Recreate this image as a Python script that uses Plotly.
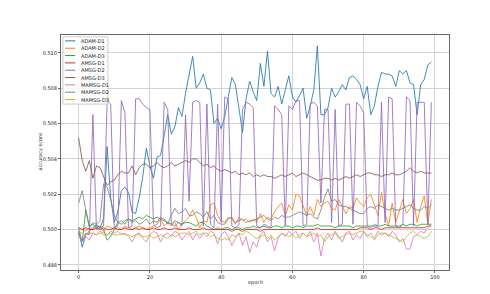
import plotly.graph_objects as go

epochs = list(range(100))

series_names = ["ADAM-D1", "ADAM-D2", "ADAM-D3", "AMSG-D1", "AMSG-D2",
                "AMSG-D3", "MAMSG-D1", "MAMSG-D2", "MAMSG-D3"]

adam_d1 = [0.4999, 0.4990, 0.4997, 0.4999, 0.5001, 0.5003, 0.5001, 0.5006, 0.5047, 0.5018,
           0.5004, 0.5010, 0.5022, 0.5024, 0.5021, 0.5010, 0.5009, 0.5018, 0.5030, 0.5046,
           0.5036, 0.5029, 0.5041, 0.5042, 0.5053, 0.5065, 0.5054, 0.5058, 0.5069, 0.5064,
           0.5077, 0.5088, 0.5098, 0.5080, 0.5083, 0.5088, 0.5080, 0.5079, 0.5060, 0.5063,
           0.5057, 0.5064, 0.5075, 0.5086, 0.5082, 0.5068, 0.5055, 0.5074, 0.5084, 0.5078,
           0.5073, 0.5094, 0.5081, 0.5101, 0.5077, 0.5075, 0.5081, 0.5071, 0.5079, 0.5087,
           0.5075, 0.5072, 0.5076, 0.5080, 0.5063, 0.5070, 0.5079, 0.5104, 0.5065, 0.5065,
           0.5069, 0.5080, 0.5075, 0.5078, 0.5082, 0.5079, 0.5086, 0.5087, 0.5085, 0.5082,
           0.5074, 0.5081, 0.5065, 0.5070, 0.5081, 0.5089, 0.5088, 0.5088, 0.5087, 0.5081,
           0.5090, 0.5088, 0.5090, 0.5083, 0.5082, 0.5065, 0.5082, 0.5085, 0.5093, 0.5095]

adam_d2 = [0.5001, 0.5000, 0.4999, 0.5001, 0.5000, 0.5002, 0.5001, 0.4999, 0.5002, 0.5001,
           0.5000, 0.5001, 0.5000, 0.5002, 0.5001, 0.5000, 0.5001, 0.5002, 0.5001, 0.5000,
           0.5001, 0.5002, 0.5003, 0.5006, 0.5002, 0.5004, 0.5002, 0.5004, 0.5000, 0.5003,
           0.5005, 0.5007, 0.5011, 0.5007, 0.5001, 0.5005, 0.5004, 0.5014, 0.5015, 0.5008,
           0.5005, 0.5004, 0.5007, 0.5006, 0.5003, 0.5007, 0.5005, 0.5006, 0.5004, 0.5006,
           0.5004, 0.5009, 0.5004, 0.5007, 0.5006, 0.5010, 0.5013, 0.5015, 0.5008, 0.5014,
           0.5011, 0.5020, 0.5019, 0.5014, 0.5008, 0.5013, 0.5008, 0.5017, 0.5013, 0.5015,
           0.5016, 0.5012, 0.5011, 0.5017, 0.5013, 0.5009, 0.5013, 0.5012, 0.5018, 0.5015,
           0.5013, 0.5018, 0.5020, 0.5014, 0.5008, 0.5021, 0.5009, 0.5002, 0.5015, 0.5004,
           0.5011, 0.5017, 0.5009, 0.5012, 0.5017, 0.5004, 0.5013, 0.5019, 0.5003, 0.5017]

adam_d3 = [0.4998, 0.4993, 0.5011, 0.5002, 0.5003, 0.5001, 0.5002, 0.5000, 0.4994, 0.4996,
           0.5000, 0.5004, 0.5003, 0.5005, 0.5006, 0.5005, 0.5006, 0.5007, 0.5006, 0.5008,
           0.5007, 0.5006, 0.5007, 0.5006, 0.5005, 0.5004, 0.5003, 0.5005, 0.5004, 0.5003,
           0.5004, 0.5004, 0.5003, 0.5002, 0.5004, 0.5004, 0.5002, 0.5001, 0.5000, 0.5001,
           0.5000, 0.5001, 0.5001, 0.5000, 0.5001, 0.5001, 0.5000, 0.5001, 0.5001, 0.5002,
           0.5001, 0.5001, 0.5002, 0.5001, 0.5001, 0.5002, 0.5002, 0.5001, 0.5002, 0.5002,
           0.5001, 0.5002, 0.5002, 0.5001, 0.5002, 0.5002, 0.5002, 0.5003, 0.5002, 0.5002,
           0.5002, 0.5002, 0.5001, 0.5002, 0.5002, 0.5002, 0.5002, 0.5001, 0.5002, 0.5002,
           0.5002, 0.5002, 0.5002, 0.5002, 0.5002, 0.5002, 0.5003, 0.5002, 0.5002, 0.5002,
           0.5002, 0.5003, 0.5002, 0.5003, 0.5003, 0.5002, 0.5003, 0.5003, 0.5003, 0.5003]

amsg_d1 = [0.5001, 0.5000, 0.5001, 0.5000, 0.5000, 0.5001, 0.5000, 0.5001, 0.5000, 0.5000,
           0.5001, 0.5000, 0.5000, 0.5001, 0.5000, 0.5000, 0.5001, 0.5000, 0.5001, 0.5000,
           0.5000, 0.5001, 0.5000, 0.5000, 0.5001, 0.5000, 0.5000, 0.5001, 0.5000, 0.5000,
           0.5000, 0.5001, 0.5000, 0.5000, 0.5000, 0.5001, 0.5000, 0.5000, 0.5000, 0.5000,
           0.5000, 0.5000, 0.5000, 0.4999, 0.5000, 0.5000, 0.4999, 0.5000, 0.5000, 0.5000,
           0.5000, 0.4999, 0.5000, 0.5000, 0.5000, 0.5000, 0.5000, 0.5000, 0.5000, 0.5000,
           0.5000, 0.5000, 0.5000, 0.5000, 0.5000, 0.5000, 0.5000, 0.5001, 0.5000, 0.5000,
           0.5000, 0.5000, 0.5000, 0.5000, 0.5000, 0.5000, 0.5000, 0.5000, 0.5000, 0.5001,
           0.5001, 0.5001, 0.5000, 0.5001, 0.5001, 0.5000, 0.5001, 0.5001, 0.5001, 0.5001,
           0.5001, 0.5001, 0.5001, 0.5001, 0.5001, 0.5001, 0.5001, 0.5001, 0.5002, 0.5002]

amsg_d2 = [0.5001, 0.4993, 0.4998, 0.4997, 0.5065, 0.5000, 0.5001, 0.5002, 0.5073, 0.5071,
           0.5001, 0.5002, 0.5073, 0.5066, 0.5001, 0.5002, 0.5074, 0.5074, 0.5071, 0.5069,
           0.5068, 0.5003, 0.5001, 0.5002, 0.5072, 0.5068, 0.5003, 0.5002, 0.5004, 0.5002,
           0.5065, 0.5016, 0.5072, 0.5073, 0.5072, 0.5002, 0.5071, 0.5003, 0.5001, 0.5071,
           0.5004, 0.5075, 0.5074, 0.5002, 0.5001, 0.5003, 0.5068, 0.5072, 0.5071, 0.5069,
           0.5002, 0.5001, 0.5003, 0.5002, 0.5001, 0.5070, 0.5068, 0.5065, 0.5002, 0.5070,
           0.5068, 0.5073, 0.5073, 0.5002, 0.5003, 0.5071, 0.5072, 0.5070, 0.5015, 0.5068,
           0.5068, 0.5004, 0.5068, 0.5002, 0.5003, 0.5071, 0.5071, 0.5003, 0.5072, 0.5070,
           0.5066, 0.5002, 0.5001, 0.5003, 0.5002, 0.5072, 0.5004, 0.5075, 0.5074, 0.5002,
           0.5001, 0.5003, 0.5075, 0.5073, 0.5002, 0.5072, 0.5072, 0.5072, 0.5003, 0.5072]

amsg_d3 = [0.5052, 0.5039, 0.5033, 0.5039, 0.5029, 0.5036, 0.5035, 0.5030, 0.5025, 0.5027,
           0.5028, 0.5031, 0.5033, 0.5032, 0.5032, 0.5036, 0.5031, 0.5035, 0.5037, 0.5037,
           0.5035, 0.5036, 0.5038, 0.5036, 0.5035, 0.5036, 0.5038, 0.5036, 0.5037, 0.5038,
           0.5039, 0.5038, 0.5040, 0.5040, 0.5038, 0.5036, 0.5037, 0.5035, 0.5036, 0.5034,
           0.5033, 0.5034, 0.5033, 0.5032, 0.5033, 0.5031, 0.5032, 0.5031, 0.5032, 0.5030,
           0.5031, 0.5030, 0.5031, 0.5030, 0.5030, 0.5029, 0.5030, 0.5031, 0.5030, 0.5031,
           0.5032, 0.5030, 0.5031, 0.5032, 0.5031, 0.5030, 0.5029, 0.5028, 0.5028, 0.5029,
           0.5029, 0.5028, 0.5029, 0.5028, 0.5029, 0.5030, 0.5029, 0.5030, 0.5031, 0.5030,
           0.5031, 0.5032, 0.5032, 0.5031, 0.5031, 0.5030, 0.5031, 0.5031, 0.5032, 0.5031,
           0.5031, 0.5032, 0.5033, 0.5035, 0.5033, 0.5032, 0.5033, 0.5032, 0.5032, 0.5032]

mamsg_d1 = [0.4997, 0.4993, 0.4996, 0.4994, 0.4998, 0.4997, 0.4999, 0.4998, 0.4997, 0.4999,
            0.4998, 0.4999, 0.4997, 0.4998, 0.4996, 0.4993, 0.4997, 0.4998, 0.4995, 0.4993,
            0.4997, 0.4999, 0.4998, 0.4993, 0.4997, 0.4998, 0.4996, 0.4999, 0.4998, 0.4994,
            0.4997, 0.4999, 0.4994, 0.4998, 0.4995, 0.4998, 0.4996, 0.4999, 0.4998, 0.4992,
            0.4997, 0.4999, 0.4996, 0.4991, 0.4995, 0.4998, 0.4991, 0.4996, 0.4987, 0.4993,
            0.4990, 0.4997, 0.4999, 0.4993, 0.4996, 0.4988, 0.4995, 0.4998, 0.4996, 0.4999,
            0.4997, 0.4999, 0.4995, 0.4998, 0.4996, 0.4999, 0.4993, 0.4998, 0.4985, 0.4995,
            0.4998, 0.4994, 0.4999, 0.4996, 0.4993, 0.4998, 0.4999, 0.4994, 0.4997, 0.4995,
            0.4999, 0.4996, 0.4998, 0.4995, 0.4999, 0.4997, 0.4998, 0.4996, 0.4999, 0.4997,
            0.4993, 0.4995, 0.4989, 0.4989, 0.4996, 0.4997, 0.4999, 0.4998, 0.5001, 0.5003]

mamsg_d2 = [0.5015, 0.5022, 0.5011, 0.5001, 0.5004, 0.5003, 0.5005, 0.5026, 0.5024, 0.5017,
            0.5008, 0.5004, 0.5005, 0.5003, 0.5006, 0.5004, 0.5005, 0.5003, 0.5004, 0.5006,
            0.5003, 0.5005, 0.5004, 0.5007, 0.5006, 0.5003, 0.5008, 0.5012, 0.5009, 0.5010,
            0.5012, 0.5008, 0.5008, 0.5010, 0.5009, 0.5007, 0.5010, 0.5006, 0.5008, 0.5004,
            0.5003, 0.5003, 0.5006, 0.5007, 0.5004, 0.5005, 0.5006, 0.5004, 0.5005, 0.5005,
            0.5006, 0.5007, 0.5008, 0.5006, 0.5005, 0.5007, 0.5006, 0.5008, 0.5007, 0.5007,
            0.5008, 0.5009, 0.5010, 0.5009, 0.5008, 0.5009, 0.5007, 0.5006, 0.5011, 0.5018,
            0.5023, 0.5016, 0.5017, 0.5014, 0.5013, 0.5013, 0.5012, 0.5011, 0.5010, 0.5009,
            0.5009, 0.5012, 0.5013, 0.5012, 0.5014, 0.5013, 0.5012, 0.5011, 0.5012, 0.5011,
            0.5011, 0.5012, 0.5013, 0.5014, 0.5012, 0.5011, 0.5011, 0.5013, 0.5012, 0.5014]

mamsg_d3 = [0.4999, 0.4998, 0.4997, 0.4998, 0.4998, 0.4997, 0.4998, 0.4997, 0.4997, 0.4998,
            0.4997, 0.4997, 0.4998, 0.4997, 0.4997, 0.4996, 0.4997, 0.4997, 0.4996, 0.4996,
            0.4997, 0.4995, 0.4996, 0.4997, 0.4996, 0.4995, 0.4997, 0.4996, 0.4997, 0.4998,
            0.4998, 0.4997, 0.4998, 0.4999, 0.4997, 0.4998, 0.4998, 0.4996, 0.4997, 0.4995,
            0.4994, 0.4995, 0.4994, 0.4997, 0.4996, 0.4998, 0.4997, 0.4999, 0.4998, 0.4996,
            0.4995, 0.4996, 0.4997, 0.4995, 0.4997, 0.4994, 0.4996, 0.4998, 0.4997, 0.4996,
            0.4997, 0.4995, 0.4997, 0.4998, 0.4996, 0.4997, 0.4998, 0.4996, 0.4997, 0.4993,
            0.4996, 0.4997, 0.4998, 0.4995, 0.4996, 0.4997, 0.4998, 0.4997, 0.4998, 0.4999,
            0.4999, 0.4997, 0.4996, 0.4994, 0.4997, 0.4998, 0.4998, 0.4997, 0.4996, 0.4995,
            0.4994, 0.4993, 0.4996, 0.4998, 0.4999, 0.4997, 0.4996, 0.4995, 0.4996, 0.4999]

series_values = [adam_d1, adam_d2, adam_d3, amsg_d1, amsg_d2,
                 amsg_d3, mamsg_d1, mamsg_d2, mamsg_d3]

colors = ["#1f77b4", "#ff7f0e", "#2ca02c", "#d62728", "#9467bd",
          "#8c564b", "#e377c2", "#7f7f7f", "#bcbd22"]

x_ticks = [0, 20, 40, 60, 80, 100]
y_ticks = [0.498, 0.500, 0.502, 0.504, 0.506, 0.508, 0.510]

FONT = "DejaVu Sans"

fig = go.Figure()
for name, vals, col in zip(series_names, series_values, colors):
    fig.add_trace(go.Scatter(x=epochs, y=vals, mode="lines", name=name,
                             line=dict(color=col, width=0.85), showlegend=False))

# Manual compact legend (upper-left, inside axes)
shapes = [dict(type="rect", xref="paper", yref="paper",
               x0=0.005, x1=0.121, y0=0.706, y1=0.9925,
               fillcolor="rgba(255,255,255,0.8)",
               line=dict(color="#cccccc", width=1), layer="above")]
annotations = []
for k, (name, col) in enumerate(zip(series_names, colors)):
    py = 40.7 + 7.08 * k
    yp = (262 - py) / 227
    shapes.append(dict(type="line", xref="paper", yref="paper",
                       x0=0.0105, x1=0.0368, y0=yp, y1=yp,
                       line=dict(color=col, width=1), layer="above"))
    annotations.append(dict(xref="paper", yref="paper", x=0.0455, y=yp,
                            text=name, showarrow=False, xanchor="left",
                            yanchor="middle",
                            font=dict(family=FONT, size=5, color="#222")))

annotations.append(dict(xref="paper", yref="paper", x=0.5, y=-0.053,
                        text="epoch", showarrow=False, xanchor="center",
                        yanchor="middle", font=dict(family=FONT, size=5, color="#222")))
annotations.append(dict(xref="paper", yref="paper", x=-0.0553, y=0.502,
                        text="accuracy score", showarrow=False, textangle=-90,
                        xanchor="center", yanchor="middle",
                        font=dict(family=FONT, size=5, color="#222")))

axis_common = dict(showgrid=True, gridcolor="#d3d3d3", gridwidth=1,
                   showline=True, linecolor="#666", linewidth=1, mirror=True,
                   ticks="outside", ticklen=2, tickcolor="#666", tickwidth=1,
                   zeroline=False,
                   tickfont=dict(family=FONT, size=5, color="#222"))

# The page body has an 8px margin, so the figure is drawn 8px in from the
# window's top-left corner; size and margins compensate for that.
fig.update_layout(
    width=482, height=286,
    margin=dict(l=53, r=41, t=27, b=24),
    paper_bgcolor="white", plot_bgcolor="white",
    showlegend=False,
    shapes=shapes, annotations=annotations,
    xaxis=dict(range=[-4.95, 103.95], tickvals=x_ticks, **axis_common),
    yaxis=dict(range=[0.49771, 0.51101], tickvals=y_ticks, tickformat=".3f",
               **axis_common),
)

fig.write_html("out.html")
